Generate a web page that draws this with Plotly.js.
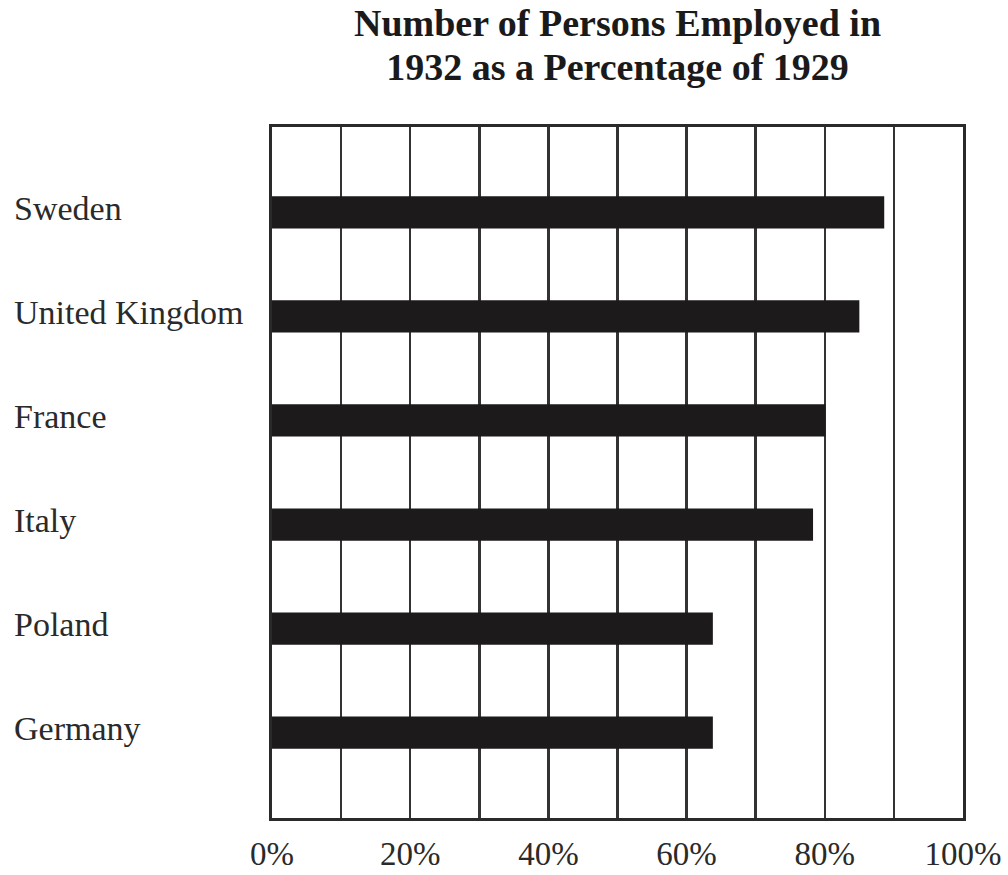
<!DOCTYPE html>
<html>
<head>
<meta charset="utf-8">
<script src="https://cdn.plot.ly/plotly-3.0.1.min.js"></script>
<style>html,body{margin:0;padding:0;background:#fff;}#chart{width:1008px;height:875px;}</style>
</head>
<body>
<div id="chart"></div>
<script>
// Data
const countries = ["Sweden", "United Kingdom", "France", "Italy", "Poland", "Germany"];
const employedPct = [88.6, 85.0, 80.1, 78.3, 63.8, 63.8];
const xTickVals = [0, 20, 40, 60, 80, 100];
const xTickText = ["0%", "20%", "40%", "60%", "80%", "100%"];
const titleLines = ["Number of Persons Employed in", "1932 as a Percentage of 1929"];

const serif = "'Liberation Serif', 'Times New Roman', serif";

const trace = {
  type: 'bar',
  orientation: 'h',
  y: countries,
  x: employedPct,
  width: 0.31,
  marker: {color: '#1c1a1b', line: {width: 0}},
  hoverinfo: 'x+y'
};

const annotations = countries.map(c => ({
  text: c,
  xref: 'paper', yref: 'y',
  x: -0.3765, y: c,
  xanchor: 'left', yanchor: 'middle',
  yshift: 4,
  showarrow: false,
  font: {family: serif, size: 34, color: '#2a2a2a'}
}));

const layout = {
  width: 1008, height: 875,
  paper_bgcolor: '#ffffff', plot_bgcolor: '#ffffff',
  margin: {l: 272, r: 45, t: 127, b: 57},
  showlegend: false,
  title: {
    text: titleLines.map(t => '<b><span style="font-size:38px">' + t + '</span></b>').join('<br>'),
    font: {family: serif, size: 34, color: '#1a1a1a'},
    xref: 'paper', x: 0.5, xanchor: 'center',
    yref: 'container', y: 0.959, yanchor: 'top'
  },
  xaxis: {
    range: [0, 100],
    tickvals: xTickVals,
    ticktext: xTickText,
    showgrid: true, gridcolor: '#333333', gridwidth: 2.5,
    minor: {dtick: 10, tick0: 0, showgrid: true, gridcolor: '#333333', gridwidth: 2.5},
    zeroline: false,
    showline: true, mirror: true, linecolor: '#2a2a2a', linewidth: 3,
    ticks: '', ticklabelstandoff: 4,
    tickfont: {family: serif, size: 33, color: '#2a2a2a'},
    fixedrange: true
  },
  yaxis: {
    type: 'category',
    categoryorder: 'array', categoryarray: countries,
    range: [5.82, -0.82],
    showticklabels: false, ticks: '',
    showgrid: false, zeroline: false,
    showline: true, mirror: true, linecolor: '#2a2a2a', linewidth: 3,
    fixedrange: true
  },
  annotations: annotations
};

Plotly.newPlot('chart', [trace], layout, {displayModeBar: false, staticPlot: true});
</script>
</body>
</html>
